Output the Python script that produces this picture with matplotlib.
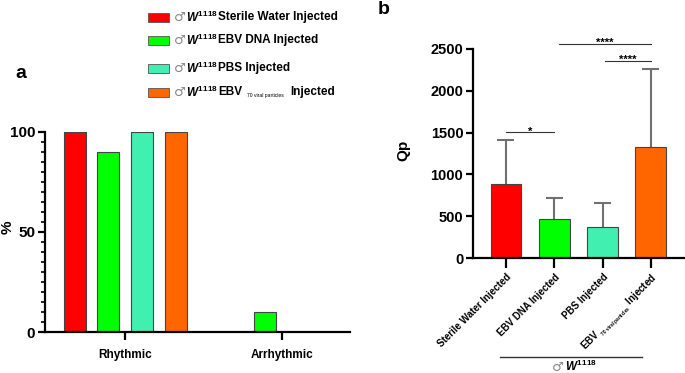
import numpy as np
import matplotlib
matplotlib.use("Agg")
import matplotlib.pyplot as plt
from matplotlib.patches import Rectangle
from matplotlib.ticker import MultipleLocator

# ---- data ----
groups = ["Rhythmic", "Arrhythmic"]
treatments = ["Sterile Water Injected", "EBV DNA Injected", "PBS Injected", "EBV"]
colors = ["#ff0000", "#00ff00", "#40f0b0", "#ff6600"]

# % of flies per group (Rhythmic, Arrhythmic) for each treatment
pct_water = [100, 0]
pct_dna = [90, 10]
pct_pbs = [100, 0]
pct_virus = [100, 0]

qp_mean = [885, 466, 375, 1324]
qp_sd = [523, 252, 283, 941]

# significance: (bar i, bar j, label, height)
sig = [(0, 1, "*", 1503), (1.1, 3, "****", 2563), (2.05, 3, "****", 2360)]

plt.rcParams["font.family"] = ["Liberation Sans", "DejaVu Sans"]
plt.rcParams["font.weight"] = "bold"
plt.rcParams["mathtext.fontset"] = "custom"
plt.rcParams["mathtext.it"] = "Liberation Sans:italic:bold"
plt.rcParams["mathtext.rm"] = "Liberation Sans"
plt.rcParams["mathtext.bf"] = "Liberation Sans:bold"

W, H = 685, 373
fig = plt.figure(figsize=(W / 100, H / 100), dpi=100)


def fx(px):
    return px / W


def fy(py):
    return 1 - py / H


def style_axes(ax):
    for s in ["top", "right"]:
        ax.spines[s].set_visible(False)
    for s in ["left", "bottom"]:
        ax.spines[s].set_linewidth(1.6)


# ---- panel a ----
ax1 = fig.add_axes([fx(45), fy(332), (350 - 45) / W, (332 - 131.7) / H])
style_axes(ax1)
x = np.arange(len(groups))
offs = (np.arange(4) - 1.5) * 0.2146
for k, vals in enumerate([pct_water, pct_dna, pct_pbs, pct_virus]):
    ax1.bar(x + offs[k], vals, width=0.14, color=colors[k],
            edgecolor="#444444", linewidth=0.8, zorder=2)
ax1.set_xlim(-0.51, 1.433)
ax1.set_ylim(0, 100)
ax1.set_yticks([0, 50, 100])
ax1.yaxis.set_minor_locator(MultipleLocator(5))
ax1.set_xticks(x)
ax1.set_xticklabels(groups, fontsize=8.5, fontweight="bold")
ax1.tick_params(axis="y", which="major", length=5, width=1.6, labelsize=11, pad=2)
ax1.tick_params(axis="y", which="minor", length=3, width=1.2)
ax1.tick_params(axis="x", length=6, width=1.6, pad=6)
fig.text(fx(8), fy(227), "%", rotation=90, fontsize=11, fontweight="bold",
         ha="center", va="center")
fig.text(fx(21), fy(74), "a", fontsize=14, fontweight="bold", ha="center", va="center")

# ---- legend (drawn by hand) ----
rows_y = [17.3, 40.5, 68.3, 92.3]
for k, yy in enumerate(rows_y):
    fig.patches.append(Rectangle((fx(148), fy(yy + 4.7)), 21 / W, 9.4 / H,
                                 transform=fig.transFigure, facecolor=colors[k],
                                 edgecolor="#555555", linewidth=0.6))
    fig.text(fx(174), fy(yy), "\u2642", fontsize=9.5, color="#888888",
             fontweight="normal", family="DejaVu Sans", ha="left", va="center")
    fig.text(fx(186), fy(yy), r"$\mathit{W}^{\mathit{1118}}$", fontsize=8.5,
             ha="left", va="center")
    fig.text(fx(218), fy(yy), treatments[k], fontsize=8.5, fontweight="bold",
             ha="left", va="center")
fig.text(fx(247), fy(rows_y[3] + 3), "70 viral particles", fontsize=3.6,
         fontweight="normal", ha="left", va="center")
fig.text(fx(290), fy(rows_y[3]), "Injected", fontsize=8.5, fontweight="bold",
         ha="left", va="center")

# ---- panel b ----
ax2 = fig.add_axes([fx(473), fy(258), (685 - 473) / W, (258 - 49) / H])
style_axes(ax2)
xb = np.arange(len(qp_mean))
ax2.bar(xb, qp_mean, width=0.64, color=colors, edgecolor="#444444",
        linewidth=0.8, zorder=2)
tops = np.array(qp_mean) + np.array(qp_sd)
ax2.vlines(xb, qp_mean, tops, color="#707070", linewidth=1.5, zorder=1)
ax2.hlines(tops, xb - 0.176, xb + 0.176, color="#707070", linewidth=1.5, zorder=1,
           clip_on=False)
for i, j, lab, yy in sig:
    ax2.plot([i, j], [yy, yy], color="#333333", linewidth=0.8, clip_on=False)
    ax2.text((i + j) / 2, yy - 30, lab, fontsize=8, fontweight="bold",
             ha="center", va="baseline", clip_on=False)
ax2.set_xlim(-0.683, 3.706)
ax2.set_ylim(0, 2500)
ax2.set_yticks(np.arange(0, 2501, 500))
ax2.set_xticks(xb)
xlabels = treatments[:3] + [r"EBV $_{_{\mathregular{70\ viral\ particles}}}$ Injected"]
ax2.set_xticklabels(xlabels, rotation=45, ha="right", rotation_mode="anchor",
                    fontsize=7, fontweight="bold")
ax2.tick_params(axis="y", length=5, width=1.6, labelsize=10.5, pad=2)
ax2.tick_params(axis="x", length=7, width=1.6, pad=3)
fig.text(fx(403), fy(150), "Qp", rotation=90, fontsize=11, fontweight="bold",
         ha="center", va="center")
fig.text(fx(384), fy(10), "b", fontsize=14, fontweight="bold", ha="center", va="center")

# group bracket under panel b
fig.add_artist(plt.Line2D([fx(500), fx(642)], [fy(357), fy(357)],
                          color="#333333", linewidth=1.0))
fig.text(fx(552), fy(367), "\u2642", fontsize=9.5, color="#888888",
         fontweight="normal", family="DejaVu Sans", ha="left", va="center")
fig.text(fx(565), fy(366), r"$\mathit{W}^{\mathit{1118}}$", fontsize=8.5,
         ha="left", va="center")

fig.savefig("out.png", dpi=100)
